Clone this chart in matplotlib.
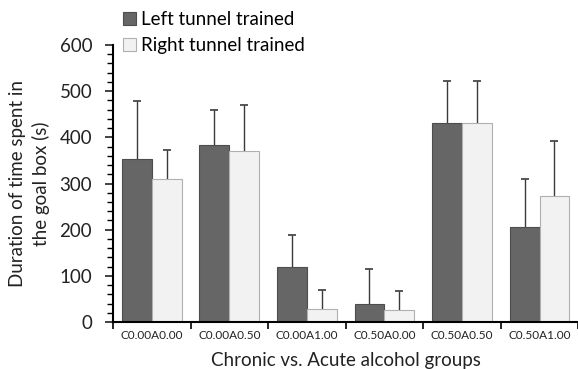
import numpy as np
import matplotlib.pyplot as plt
from matplotlib.ticker import MultipleLocator, FixedLocator

plt.rcParams['font.family'] = ['Lato', 'DejaVu Sans']

groups = ['C0.00A0.00', 'C0.00A0.50', 'C0.00A1.00', 'C0.50A0.00', 'C0.50A0.50', 'C0.50A1.00']
left_mean = [352, 383, 120, 38, 431, 206]
left_err = [127, 76, 68, 77, 90, 104]
right_mean = [310, 371, 29, 25, 432, 274]
right_err = [63, 100, 40, 43, 91, 119]

x = np.arange(len(groups))
w = 0.385

fig = plt.figure(figsize=(5.78, 3.69), dpi=100)
ax = fig.add_axes([0.1955, 0.1274, 0.805, 0.7506])

ax.bar(x - w/2, left_mean, w, color='#666666', edgecolor='#4d4d4d', lw=0.8,
       label='Left tunnel trained', zorder=2)
ax.bar(x + w/2, right_mean, w, color='#f2f2f2', edgecolor='#b0b0b0', lw=0.8,
       label='Right tunnel trained', zorder=2)

# upper error bars only, lower cap hidden
for xs, m, e in [(x - w/2, left_mean, left_err), (x + w/2, right_mean, right_err)]:
    eb = ax.errorbar(xs, m, yerr=[np.zeros(len(e)), e], fmt='none',
                     ecolor='#3a3a3a', elinewidth=1.0, capsize=3, capthick=1.2,
                     zorder=1)
    eb[1][0].set_visible(False)

ax.set_xlim(-0.5, 5.5)
ax.set_ylim(0, 600)
ax.yaxis.set_major_locator(MultipleLocator(100))
ax.yaxis.set_minor_locator(MultipleLocator(20))
ax.set_xticks(x)
ax.set_xticklabels(groups, fontsize=8.5)
ax.xaxis.set_minor_locator(FixedLocator(np.arange(-0.5, 6, 1)))
ax.tick_params(axis='x', which='major', length=0, pad=6, colors='#222222')
ax.tick_params(axis='x', which='minor', length=5, width=1.2, direction='out')
ax.tick_params(axis='y', which='major', length=6, width=1.2, labelsize=13.5,
               colors='#222222', pad=9)
ax.tick_params(axis='y', which='minor', length=4, width=1.0)

ax.spines['top'].set_visible(False)
ax.spines['right'].set_visible(False)
ax.spines['left'].set_linewidth(1.5)
ax.spines['bottom'].set_linewidth(1.5)

ax.set_ylabel('Duration of time spent in\nthe goal box (s)', fontsize=13.5,
              color='#222222', labelpad=7, linespacing=1.4)
ax.set_xlabel('Chronic vs. Acute alcohol groups', fontsize=13.5, color='#222222',
              labelpad=8)

fig.legend(loc='upper left', bbox_to_anchor=(0.2, 0.99), frameon=False,
           fontsize=13.5, handlelength=0.7, handleheight=0.7, handletextpad=0.25,
           labelspacing=0.45, borderaxespad=0.0)

plt.savefig('out.png', dpi=100)
